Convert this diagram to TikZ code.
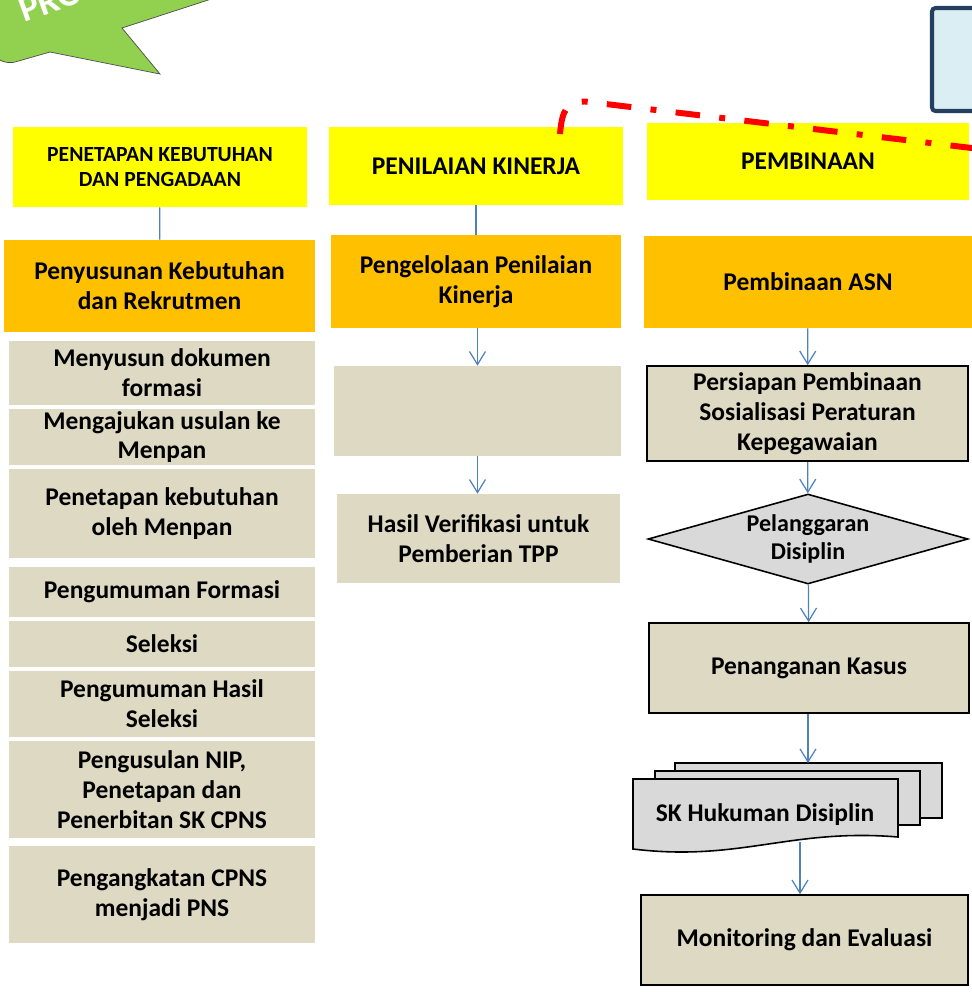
\documentclass[tikz,border=0pt]{standalone}
\usepackage{fontspec}
\setmainfont{Carlito}
\usetikzlibrary{arrows.meta, shapes, positioning, calc}
\definecolor{hdryellow}{HTML}{FFFF00}
\definecolor{hdrorange}{HTML}{FFC000}
\definecolor{tanbox}{HTML}{DDD9C3}
\definecolor{greybox}{HTML}{D9D9D9}
\definecolor{stargreen}{HTML}{92D050}
\definecolor{paleblue}{HTML}{DBEEF3}
\definecolor{navyline}{HTML}{243F60}
\definecolor{arrowblue}{HTML}{4F81BD}
\newcommand{\bodyfont}{\bfseries\fontsize{14.5}{17}\selectfont}

\begin{document}
\begin{tikzpicture}[x=0.02cm, y=-0.02cm,
  every node/.style={align=center, inner xsep=2pt, inner ysep=0.5pt},
  hdr/.style={fill=hdryellow, font=\bfseries\fontsize{14.5}{17}\selectfont},
  main/.style={fill=hdrorange, font=\bodyfont},
  task/.style={fill=tanbox, font=\bodyfont},
  taskb/.style={task, draw=black, line width=0.9pt},
  link/.style={draw=arrowblue, line width=0.7pt},
  arr/.style={link, -{Straight Barb[length=2.6mm,width=3.2mm]}},
  sheet/.style={fill=greybox, draw=black, line width=0.9pt},
  redline/.style={draw=red, line width=3.4pt, dash pattern=on 14pt off 11pt on 3.4pt off 11pt}]
\useasboundingbox (0,0) rectangle (972,992);
\clip (0,0) rectangle (972,992);

\filldraw[fill=stargreen, draw=black!70, line width=0.4pt] (-6,-10) -- (239,-10) -- (122,28) -- (160,74) -- (50,52) [rounded corners=4pt] -- (8,64) -- (-6,57) [sharp corners] -- cycle;
\node[text=white, rotate=20, font=\bfseries\fontsize{21}{24}\selectfont, anchor=base west, inner sep=0pt] (prog) at (24,23) {PRO};

\filldraw[fill=paleblue, draw=navyline, line width=2.3pt, rounded corners=2pt] (932,8) rectangle (1010,111);

\node[hdr, minimum width=5.88cm, minimum height=1.6cm, font=\bfseries\fontsize{12.3}{14.7}\selectfont] (pengadaan) at (160,167) {PENETAPAN KEBUTUHAN\\DAN PENGADAAN};
\node[main, minimum width=6.22cm, minimum height=1.84cm] (rekrut) at (159.5,286) {Penyusunan Kebutuhan\\dan Rekrutmen};
\node[task, minimum width=6.12cm, minimum height=1.28cm] (formasi) at (162,373) {Menyusun dokumen\\formasi};
\node[task, minimum width=6.12cm, minimum height=1.12cm] (usulan) at (162,437) {Mengajukan usulan ke\\Menpan};
\node[task, minimum width=6.12cm, minimum height=1.78cm] (penetapan) at (162,513.5) {Penetapan kebutuhan\\oleh Menpan};
\node[task, minimum width=6.12cm, minimum height=1.0cm] (umumformasi) at (162,592) {Pengumuman Formasi};
\node[task, minimum width=6.12cm, minimum height=0.92cm] (seleksi) at (162,644) {Seleksi};
\node[task, minimum width=6.12cm, minimum height=1.32cm] (hasilseleksi) at (162,704) {Pengumuman Hasil\\Seleksi};
\node[task, minimum width=6.12cm, minimum height=1.94cm] (nip) at (162,789.5) {Pengusulan NIP,\\Penetapan dan\\Penerbitan SK CPNS};
\node[task, minimum width=6.12cm, minimum height=1.94cm] (pns) at (162,894.5) {Pengangkatan CPNS\\menjadi PNS};
\draw[link] (pengadaan) -- (rekrut);

\node[hdr, minimum width=5.88cm, minimum height=1.56cm] (kinerja) at (476,166) {PENILAIAN KINERJA};
\node[main, minimum width=5.8cm, minimum height=1.86cm] (kelola) at (476,281.5) {Pengelolaan Penilaian\\Kinerja};
\node[task, minimum width=5.74cm, minimum height=1.8cm] (kosong) at (477.5,411) {};
\node[task, minimum width=5.66cm, minimum height=1.78cm] (tpp) at (478.5,538.5) {Hasil Verifikasi untuk\\Pemberian TPP};
\draw[link] (kinerja) -- (kelola);
\draw[arr] (kosong.north |- kelola.south) -- (kosong.north);
\draw[arr] (kosong.south) -- (kosong.south |- tpp.north);

\node[hdr, minimum width=6.44cm, minimum height=1.54cm] (pembinaan) at (808,161.5) {PEMBINAAN};
\node[main, minimum width=6.56cm, minimum height=1.84cm] (asn) at (808,282) {Pembinaan ASN};
\node[taskb, minimum width=6.42cm, minimum height=1.9cm] (sosialisasi) at (807.5,413.5) {Persiapan Pembinaan\\Sosialisasi Peraturan\\Kepegawaian};
\node[diamond, fill=greybox, draw=black, line width=0.9pt, inner sep=0pt, aspect=3.55, minimum width=6.4cm, minimum height=1.8cm, font=\bfseries\fontsize{13.7}{15.8}\selectfont] (disiplin) at (808,539) {Pelanggaran\\Disiplin};
\node[taskb, minimum width=6.4cm, minimum height=1.8cm] (kasus) at (809,668) {Penanganan Kasus};
\node[taskb, minimum width=6.54cm, minimum height=1.8cm] (monev) at (804.5,940) {Monitoring dan Evaluasi};
\draw[arr] (asn) -- (sosialisasi);
\draw[arr] (sosialisasi) -- (disiplin);
\draw[arr] (disiplin) -- (kasus);

\filldraw[sheet] (675,763) rectangle (942,818);
\filldraw[sheet] (655,771) rectangle (920,825);
\filldraw[sheet] (633,779) -- (898,779) -- (898,837) .. controls (790,828) and (740,862) .. (633,849) -- cycle;
\node[font=\bodyfont] (hukuman) at (765,815) {SK Hukuman Disiplin};
\coordinate (docTop) at (808,763);
\coordinate (docBot) at (800,842);
\draw[arr] (kasus.south -| docTop) -- (docTop);
\draw[arr] (docBot) -- (docBot |- monev.north);

\draw[redline] (560,134) .. controls (562,110) and (567,101) .. (585,101.5) -- (980,149);
\end{tikzpicture}
\end{document}
